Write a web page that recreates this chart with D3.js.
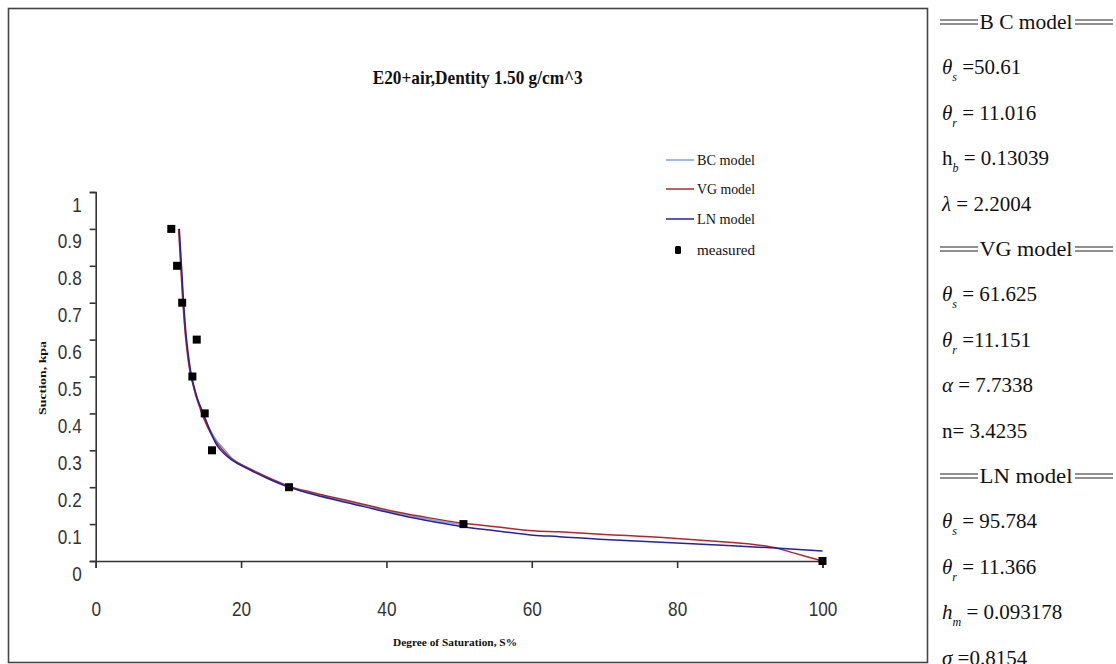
<!DOCTYPE html>
<html><head><meta charset="utf-8">
<script src="https://cdn.jsdelivr.net/npm/d3@7"></script>
<style>body{margin:0;background:#fff}svg{display:block}</style>
</head><body>
<svg id="c" width="1116" height="664"></svg>
<script>
// ---------- data ----------
const chartTitle = "E20+air,Dentity 1.50 g/cm^3";
const xTitle = "Degree of Saturation, S%";
const yTitle = "Suction, kpa";
const xTicks = [0, 20, 40, 60, 80, 100];
const xTickLabels = ["0", "20", "40", "60", "80", "100"];
const yTicks = [0, 0.1, 0.2, 0.3, 0.4, 0.5, 0.6, 0.7, 0.8, 0.9, 1];
const yTickLabels = ["0", "0.1", "0.2", "0.3", "0.4", "0.5", "0.6", "0.7", "0.8", "0.9", "1"];

const measuredS = [10.4, 11.2, 11.9, 13.9, 13.3, 15.0, 16.0, 26.6, 50.6, 100];
const measuredH = [0.9, 0.8, 0.7, 0.6, 0.5, 0.4, 0.3, 0.2, 0.1, 0.0];

const lnS = [11.5, 11.8, 12.1, 12.5, 13.2, 14.0, 14.8, 15.8, 16.8, 18.7, 21.2, 23.5, 26.6, 30, 35.9, 40.9, 45, 50.6, 55, 60.2, 63.8, 70, 78.5, 87.6, 93.5, 100];
const lnH = [0.90, 0.80, 0.70, 0.60, 0.50, 0.44, 0.40, 0.35, 0.31, 0.274, 0.247, 0.225, 0.200, 0.180, 0.152, 0.129, 0.112, 0.093, 0.082, 0.070, 0.066, 0.058, 0.050, 0.041, 0.035, 0.027];

const vgS = [11.4, 11.7, 12.0, 12.4, 13.1, 14.6, 16.3, 17.5, 18.7, 21.2, 26.6, 30, 35.9, 40.9, 45, 50.6, 55, 60.2, 63.8, 70, 78.5, 87.6, 90, 93.5, 96, 100];
const vgH = [0.90, 0.80, 0.70, 0.60, 0.50, 0.40, 0.33, 0.30, 0.277, 0.250, 0.203, 0.185, 0.158, 0.135, 0.120, 0.102, 0.093, 0.082, 0.079, 0.072, 0.063, 0.050, 0.046, 0.036, 0.022, 0.0];

const bcS = [11.45, 11.75, 12.05, 12.45, 13.15, 14.7, 16.5, 17.8, 18.9, 21.2, 26.6, 30, 35.9, 40.9, 45, 50.6];
const bcH = [0.90, 0.80, 0.70, 0.60, 0.50, 0.40, 0.33, 0.30, 0.276, 0.248, 0.201, 0.182, 0.155, 0.132, 0.116, 0.098];

const legendNames = ["BC model", "VG model", "LN model", "measured"];
const seriesColors = ["#7aa6d6", "#b3272c", "#23239a", "#000"];

// right-side parameter panel
const panelRows = [
  {head: "B C model"},
  {sym: "θ", sub: "s", rest: " =50.61"},
  {sym: "θ", sub: "r", rest: " = 11.016"},
  {sym: "h", sub: "b", rest: " = 0.13039", roman: true},
  {sym: "λ", sub: "", rest: " =  2.2004"},
  {head: "VG model"},
  {sym: "θ", sub: "s", rest: " = 61.625"},
  {sym: "θ", sub: "r", rest: " =11.151"},
  {sym: "α", sub: "", rest: " = 7.7338"},
  {sym: "n", sub: "", rest: "= 3.4235", roman: true},
  {head: "LN model"},
  {sym: "θ", sub: "s", rest: " =  95.784"},
  {sym: "θ", sub: "r", rest: " = 11.366"},
  {sym: "h", sub: "m", rest: " = 0.093178"},
  {sym: "σ", sub: "", rest: " =0.8154"}
];

// ---------- drawing ----------
const svg = d3.select("#c");
const ink = "#333";

svg.append("rect").attr("x", 8.5).attr("y", 8.5).attr("width", 919).attr("height", 654)
  .attr("fill", "#fff").attr("stroke", "#444").attr("stroke-width", 1.6);

const x = d3.scaleLinear().domain([0, 100]).range([95.7, 822.5]);
const y = d3.scaleLinear().domain([0, 1]).range([561, 192]);

// title
svg.append("text").attr("x", 372.7).attr("y", 84)
  .attr("font-family", "Liberation Serif, Times New Roman, serif").attr("font-weight", "bold")
  .attr("font-size", 19).attr("textLength", 210).attr("lengthAdjust", "spacingAndGlyphs")
  .attr("fill", "#111").text(chartTitle);

// y axis
const yAxis = svg.append("g").attr("transform", `translate(${x(0)},0)`)
  .call(d3.axisLeft(y).tickValues(yTicks).tickFormat((d, i) => yTickLabels[i]).tickSize(6).tickPadding(9));
yAxis.selectAll("path,line").attr("stroke", ink).attr("stroke-width", 1.6);
yAxis.selectAll("text").attr("font-family", "Liberation Sans, Arial, sans-serif").attr("font-size", 20)
  .attr("fill", "#333").attr("x", 0).attr("dy", null)
  .attr("transform", "translate(-14,19) scale(0.86,1)");

// x axis
const xAxis = svg.append("g").attr("transform", `translate(0,${y(0)})`)
  .call(d3.axisBottom(x).tickValues(xTicks).tickFormat((d, i) => xTickLabels[i]).tickSize(7).tickPadding(34));
xAxis.selectAll("path,line").attr("stroke", ink).attr("stroke-width", 1.6);
xAxis.selectAll("text").attr("font-family", "Liberation Sans, Arial, sans-serif").attr("font-size", 20)
  .attr("fill", "#333").attr("y", 0).attr("dy", null)
  .attr("transform", "translate(0,55) scale(0.86,1)");
svg.selectAll(".domain").attr("fill", "none");

// axis titles
svg.append("text").attr("x", 455).attr("y", 646).attr("text-anchor", "middle")
  .attr("font-family", "Liberation Serif, Times New Roman, serif").attr("font-weight", "bold")
  .attr("font-size", 11).attr("textLength", 124).attr("lengthAdjust", "spacingAndGlyphs")
  .attr("fill", "#111").text(xTitle);
svg.append("text").attr("transform", "translate(46,378) rotate(-90)").attr("text-anchor", "middle")
  .attr("font-family", "Liberation Serif, Times New Roman, serif").attr("font-weight", "bold")
  .attr("font-size", 11).attr("textLength", 74).attr("lengthAdjust", "spacingAndGlyphs")
  .attr("fill", "#111").text(yTitle);

// curves
const line = d3.line().x(d => x(d[0])).y(d => y(d[1])).curve(d3.curveCatmullRom);
const curves = [
  [d3.zip(bcS, bcH), seriesColors[0]],
  [d3.zip(vgS, vgH), seriesColors[1]],
  [d3.zip(lnS, lnH), seriesColors[2]]
];
curves.forEach(([pts, col]) => {
  svg.append("path").attr("d", line(pts)).attr("fill", "none").attr("stroke", col).attr("stroke-width", 1.5);
});

// measured points
svg.append("g").selectAll("rect").data(d3.zip(measuredS, measuredH)).join("rect")
  .attr("x", d => x(d[0]) - 4).attr("y", d => y(d[1]) - 4).attr("width", 8).attr("height", 8)
  .attr("fill", "#000");

// legend
const legY = [160, 189, 219, 250];
legendNames.forEach((name, i) => {
  if (i < 3) {
    svg.append("line").attr("x1", 666).attr("x2", 694).attr("y1", legY[i]).attr("y2", legY[i])
      .attr("stroke", seriesColors[i]).attr("stroke-width", 1.5);
  } else {
    svg.append("rect").attr("x", 675).attr("y", legY[i] - 4).attr("width", 6).attr("height", 8)
      .attr("rx", 1.5).attr("fill", "#000");
  }
  svg.append("text").attr("x", 697).attr("y", legY[i] + 5)
    .attr("font-family", "Liberation Serif, Times New Roman, serif").attr("font-size", 14)
    .attr("fill", "#111").attr("textLength", 58).attr("lengthAdjust", "spacingAndGlyphs").text(name);
});

// right panel
const panel = svg.append("g").attr("font-family", "Liberation Serif, Times New Roman, serif").attr("fill", "#111");
panelRows.forEach((r, i) => {
  const cy = 22 + i * 45.4;
  if (r.head) {
    [[940, 978], [1075, 1113]].forEach(([a, b]) => {
      [-2, 2].forEach(o => panel.append("line").attr("x1", a).attr("x2", b).attr("y1", cy + o).attr("y2", cy + o)
        .attr("stroke", "#222").attr("stroke-width", 1.2));
    });
    panel.append("text").attr("x", 1026).attr("y", cy + 7).attr("text-anchor", "middle")
      .attr("font-size", 21).attr("textLength", 93).attr("lengthAdjust", "spacingAndGlyphs").text(r.head);
  } else {
    const t = panel.append("text").attr("x", 942).attr("y", cy + 7).attr("font-size", 21);
    t.append("tspan").attr("font-style", r.roman ? "normal" : "italic").text(r.sym);
    if (r.sub) {
      t.append("tspan").attr("font-size", 12).attr("font-style", "italic").attr("dy", 7).text(r.sub);
      t.append("tspan").attr("dy", -7).text(r.rest);
    } else {
      t.append("tspan").text(r.rest);
    }
  }
});
</script>
</body></html>
